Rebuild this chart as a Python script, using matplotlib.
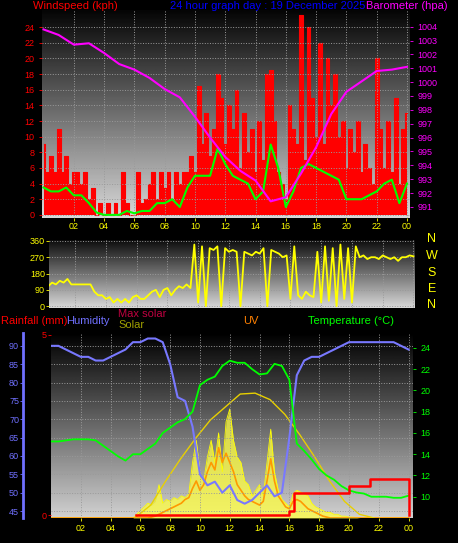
import numpy as np
import matplotlib
matplotlib.use("Agg")
import matplotlib.pyplot as plt

plt.rcParams["font.family"] = ["Liberation Sans", "DejaVu Sans"]

# ---- data ----
hours_half = np.arange(0, 24.01, 0.5)
hours_q = np.arange(0, 24.01, 0.25)
hours_1 = np.arange(0, 25)

baro = [1003.8, 1003.4, 1002.7, 1002.8, 1002.1, 1001.3, 1000.9, 1000.3, 999.5,
        998.9, 997.5, 996.0, 994.6, 993.6, 992.9, 991.4, 991.7, 993.4, 995.3,
        997.7, 999.3, 1000.05, 1000.8, 1000.9, 1001.1]

wind_avg = [3.5, 3, 3, 3.5, 2.5, 2.5, 1.5, 0.3, 0, 0, 0, 0.5, 0.2, 0.5, 0.5, 1.5,
            1.5, 2, 1, 3.5, 5, 5, 5, 8.5, 6.5, 5, 4.5, 4, 2, 3, 9, 6, 1, 3, 6,
            6.5, 6, 5.5, 5, 4.5, 2, 2, 2, 2.5, 3, 4, 4.5, 1.5, 4]

wind_gust = [9, 5.5, 7.5, 5.5, 11, 5.5, 7.5, 4,
             5.5, 5.5, 4, 5.5, 2, 3.5, 0, 1.5,
             0, 1.5, 0, 1.5, 0, 5.5, 1.5, 0,
             0, 5.5, 1.5, 2, 4, 5.5, 2, 5.5,
             3.5, 5.5, 2, 5.5, 4, 5.5, 5.5, 7.5,
             5.5, 16.5, 9, 13, 7.5, 11, 18, 15,
             9, 14, 11, 16, 6, 13, 8, 11,
             5.5, 12, 7, 18, 18.5, 12, 5.5, 4,
             2, 14, 11, 9, 25.5, 7, 24, 15,
             10, 22, 9, 20, 14, 18, 10, 12,
             6, 11, 8, 12, 5.5, 9, 6, 4,
             20, 11, 6, 12, 5.5, 15, 4, 11,
             13]

wind_dir = [120, 110, 130, 120, 140, 130, 150, 120,
            120, 120, 120, 120, 120, 80, 60, 60,
            40, 50, 20, 40, 20, 40, 20, 50,
            60, 40, 40, 60, 80, 90, 50, 90,
            100, 60, 90, 110, 100, 120, 100, 340,
            20, 330, 0, 320, 310, 330, 0, 320,
            300, 310, 300, 0, 300, 290, 280, 300,
            290, 320, 0, 310, 300, 290, 270, 280,
            40, 330, 60, 40, 80, 60, 50, 300,
            20, 330, 30, 320, 0, 340, 40, 320,
            20, 330, 270, 280, 260, 270, 270, 260,
            280, 270, 260, 270, 250, 270, 270, 280,
            275]

humidity = [90, 90, 89, 88, 87, 87, 86, 86, 87, 88, 89, 91, 91, 92, 92, 91, 85,
            76, 75, 68, 55, 52, 53, 50, 52, 48, 47, 48, 50, 52, 49, 50, 65, 82,
            86, 87, 87, 88, 89, 90, 91, 91, 91, 91, 91, 91, 91, 90, 89]

temperature = [15.2, 15.2, 15.3, 15.4, 15.4, 15.4, 15.3, 14.8, 14.3, 13.8, 13.4,
               14.0, 14.0, 14.5, 15.0, 16.0, 16.5, 17.0, 17.3, 18.0, 20.5, 21.0,
               21.3, 22.3, 22.8, 22.6, 22.6, 22.0, 21.5, 21.6, 22.5, 22.3, 21.0,
               15.0, 14.3, 13.5, 12.6, 12.0, 11.6, 11.0, 10.6, 10.4, 10.3, 10.0,
               10.0, 10.0, 9.9, 9.9, 10.1]

rain_t = [5.7, 15.95, 16.3, 20.0, 21.4, 23.95, 24.0]
rain_v = [0.0, 0.12, 0.6, 0.8, 1.0, 1.0, 0.0]

maxsolar_t = np.arange(5.7, 21.8, 1.0)
maxsolar = [5, 70, 200, 320, 430, 530, 600, 670, 675, 640, 560, 450, 330, 200, 90, 20, 0]

solar = [0, 0, 0, 0, 0, 0, 0, 0, 0, 0, 0, 0, 0, 0, 0, 0,
         0, 0, 0, 0, 0, 0, 0, 20,
         40, 60, 80, 70, 90, 180, 80, 100,
         90, 110, 100, 120, 110, 130, 300, 420,
         250, 200, 330, 420, 300, 460, 250, 520,
         590, 420, 330, 300, 200, 180, 120, 150,
         180, 120, 300, 480, 250, 150, 100, 80,
         60, 130, 150, 140, 130, 120, 80, 60,
         50, 40, 30, 30, 20, 20, 10, 10,
         5, 5, 3, 0, 0, 0, 0, 0,
         0, 0, 0, 0, 0, 0, 0, 0, 0]

uv = [0, 0, 0, 0, 0, 0, 0, 0, 0, 0, 0, 0, 0, 0, 0, 0,
      0, 0, 0, 0, 0, 0, 0, 0,
      0, 0, 0, 5, 10, 20, 30, 40,
      50, 60, 70, 80, 100, 110, 160, 200,
      150, 180, 250, 300, 260, 380, 300, 350,
      300, 250, 180, 150, 120, 100, 90, 80,
      70, 90, 200, 320, 200, 120, 90, 60,
      50, 90, 100, 90, 70, 50, 40, 30,
      20, 10, 5, 0, 0, 0, 0, 0,
      0, 0, 0, 0, 0, 0, 0, 0,
      0, 0, 0, 0, 0, 0, 0, 0, 0]

xtick_pos = np.arange(2, 25, 2)
xtick_labels = ["02", "04", "06", "08", "10", "12", "14", "16", "18", "20", "22", "00"]

W, H = 458, 543
fig = plt.figure(figsize=(W / 100, H / 100), dpi=100, facecolor="black")


def add_ax(l, t, r, b):
    return fig.add_axes([l / W, 1 - b / H, (r - l) / W, (b - t) / H])


def gradient(ax, top=0.0, bottom=0.82):
    g = np.linspace(top, bottom, 256).reshape(-1, 1)
    ax.imshow(g, cmap="gray", vmin=0, vmax=1, aspect="auto",
              extent=[0, 1, 0, 1], transform=ax.transAxes, zorder=0)


def style(ax):
    ax.set_facecolor("black")
    for s in ax.spines.values():
        s.set_visible(False)
    ax.tick_params(labelsize=6.5, length=2, width=0.6)


fs = 8

# ---- panel 1: wind + barometer ----
ax1 = add_ax(42, 10, 410, 218)
style(ax1)
gradient(ax1, 0.02, 0.85)
ax1.set_xlim(-0.1, 24.2)
ax1.set_ylim(-0.4, 26.2)
ax1.fill_between(hours_q, 0, wind_gust, step="mid", color="#ff0000", lw=0, zorder=2)
ax1.step(hours_q, wind_gust, where="mid", color="#ff0000", lw=0.8, zorder=2)
ax1.plot(hours_half, wind_avg, color="#00ff00", lw=1.5, zorder=3)
ax1.set_yticks(np.arange(0, 25, 2))
ax1.tick_params(axis="y", colors="#ff0000")
ax1.set_xticks(xtick_pos)
ax1.set_xticklabels(xtick_labels)
ax1.tick_params(axis="x", colors="#ffff00", pad=1)
ax1.grid(True, color="#9a9a9a", ls=":", lw=0.7)
ax1.set_axisbelow(False)
ax1b = ax1.twinx()
style(ax1b)
ax1b.set_ylim(990.2, 1005.2)
ax1b.plot(hours_1, baro, color="#ff00ff", lw=1.5, zorder=4)
ax1b.set_yticks(np.arange(991, 1005))
ax1b.tick_params(axis="y", colors="#ff00ff")
fig.text(33 / W, 1 - 6 / H, "Windspeed (kph)", color="#ff0000", fontsize=fs, va="center")
fig.text(170 / W, 1 - 6 / H, "24 hour graph day : 19 December 2025", color="#0000ff", fontsize=fs, va="center")
fig.text(366 / W, 1 - 6 / H, "Barometer (hpa)", color="#ff00ff", fontsize=fs, va="center")

# ---- panel 2: wind direction ----
ax2 = add_ax(49, 240, 415, 308)
style(ax2)
gradient(ax2, 0.05, 0.85)
ax2.set_xlim(0.3, 24.1)
ax2.set_ylim(-10, 365)
ax2.plot(hours_q, wind_dir, color="#ffff00", lw=1.3, zorder=3)
ax2.set_yticks([0, 90, 180, 270, 360])
ax2.tick_params(axis="y", colors="#ffff00", pad=1)
ax2.set_xticks(xtick_pos)
ax2.set_xticklabels([])
ax2.grid(True, color="#9a9a9a", ls=":", lw=0.7)
for lab, yy in zip(["N", "W", "S", "E", "N"], [239, 256, 273, 289, 305]):
    fig.text(432 / W, 1 - yy / H, lab, color="#ffff00", fontsize=9, ha="center", va="center")

# ---- panel 3: rain, humidity, solar, temperature ----
ax3 = add_ax(51, 333, 413, 518)
style(ax3)
ax3.set_xlim(0, 24.3)
ax3.set_ylim(43.1, 93.5)
ax3.spines["left"].set_visible(True)
ax3.spines["left"].set_position(("outward", 20))
ax3.spines["left"].set_color("#7070ff")
ax3.spines["left"].set_linewidth(2)
ax3.set_yticks(np.arange(45, 91, 5))
ax3.tick_params(axis="y", colors="#7070ff", pad=1)
ax3.set_xticks(xtick_pos)
ax3.set_xticklabels(xtick_labels)
ax3.tick_params(axis="x", colors="#ffff00", pad=2)
ax3.grid(True, color="#9a9a9a", ls=":", lw=0.7)

axs = ax3.twinx()
style(axs)
gradient(axs, 0.0, 0.82)
axs.set_ylim(0, 1000)
axs.set_yticks([])
axs.fill_between(hours_q, 0, solar, color="#ffff40", alpha=0.75, lw=0, zorder=2)
axs.plot(hours_q, solar, color="#ffff00", lw=0.6)
axs.plot(hours_q, uv, color="#ff9900", lw=1.2)
axs.plot(maxsolar_t, maxsolar, color="#e8d000", lw=1.0)

ax3.plot(hours_half, humidity, color="#7878ff", lw=1.5, zorder=5)
ax3.set_zorder(axs.get_zorder() + 1)
ax3.patch.set_visible(False)

axt = ax3.twinx()
style(axt)
axt.set_ylim(8.0, 25.4)
axt.plot(hours_half, temperature, color="#00ff00", lw=1.3)
axt.set_yticks(np.arange(10, 25, 2))
axt.tick_params(axis="y", colors="#00ff00")

axr = ax3.twinx()
style(axr)
axr.set_ylim(-0.08, 5.05)
axr.step(rain_t, rain_v, where="post", color="#ff0000", lw=1.8)
axr.yaxis.set_ticks_position("left")
axr.set_yticks([0, 5])
axr.tick_params(axis="y", colors="#ff0000", pad=1)

fig.text(1 / W, 1 - 321 / H, "Rainfall (mm)", color="#ff0000", fontsize=fs, va="center")
fig.text(66 / W, 1 - 321 / H, "Humidity", color="#7070ff", fontsize=fs, va="center")
fig.text(118 / W, 1 - 314 / H, "Max solar", color="#c00040", fontsize=fs, va="center")
fig.text(118 / W, 1 - 325 / H, "Solar", color="#a0a000", fontsize=fs, va="center")
fig.text(243 / W, 1 - 321 / H, "UV", color="#ff8000", fontsize=fs, va="center")
fig.text(308 / W, 1 - 321 / H, "Temperature (\u00b0C)", color="#00ff00", fontsize=fs, va="center")

fig.savefig("out.png", dpi=100, facecolor="black")
